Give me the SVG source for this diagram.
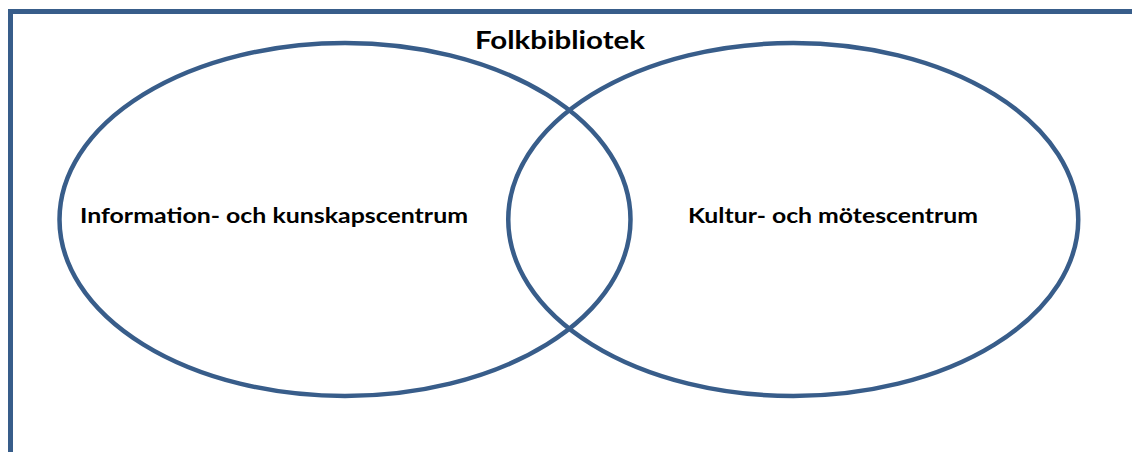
<svg xmlns="http://www.w3.org/2000/svg" width="1132" height="452" viewBox="0 0 1132 452">
<style>
.line{fill:none;stroke:#385D8A;stroke-width:4.5}
.frame{fill:none;stroke:#385D8A;stroke-width:5}
.lbl{font-family:Lato,"Open Sans","Liberation Sans",sans-serif;font-weight:700;fill:#000}
</style>
<rect width="1132" height="452" fill="#fff"/>
<g id="frame">
<polyline class="frame" points="10.5,452 10.5,11.5 1132,11.5"/>
<text class="lbl" x="560" y="49" font-size="24.5" text-anchor="middle" textLength="170" lengthAdjust="spacingAndGlyphs">Folkbibliotek</text>
</g>
<g id="info">
<ellipse class="line" cx="345" cy="219.5" rx="285.5" ry="176.5"/>
<text class="lbl" x="80" y="223" font-size="21.5" textLength="388" lengthAdjust="spacingAndGlyphs">Information- och kunskapscentrum</text>
</g>
<g id="kultur">
<ellipse class="line" cx="793.25" cy="219.5" rx="285" ry="176.5"/>
<text class="lbl" x="688" y="223" font-size="21.5" textLength="290" lengthAdjust="spacingAndGlyphs">Kultur- och mötescentrum</text>
</g>
<g id="connectors"></g>
</svg>
